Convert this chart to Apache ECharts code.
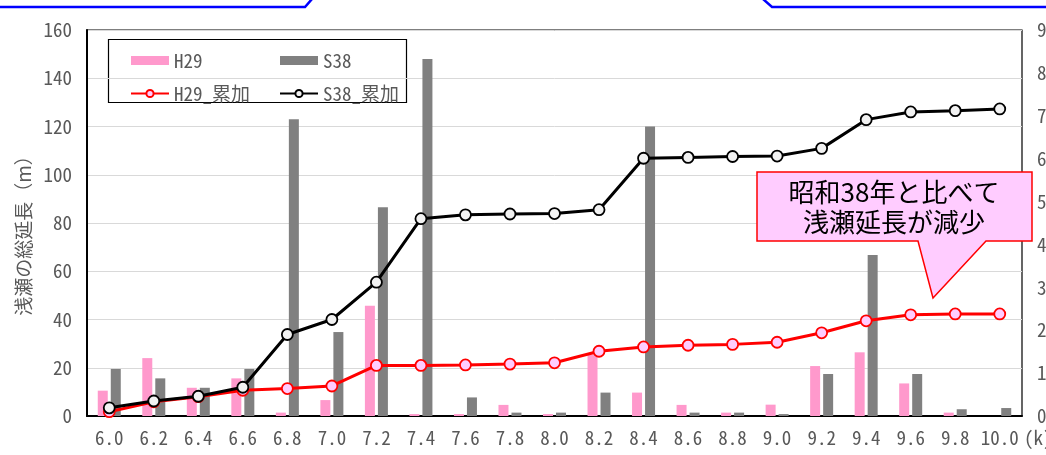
<!DOCTYPE html>
<html>
<head>
<meta charset="utf-8">
<script src="https://cdn.jsdelivr.net/npm/echarts@6/dist/echarts.min.js"></script>
<style>
  html, body { margin: 0; padding: 0; background: #fff; }
  #chart { width: 1046px; height: 455px; }
</style>
</head>
<body>
<div id="chart"></div>
<script>
// River distance markers (k)
const categories = ['6.0', '6.2', '6.4', '6.6', '6.8', '7.0', '7.2', '7.4', '7.6', '7.8', '8.0',
                    '8.2', '8.4', '8.6', '8.8', '9.0', '9.2', '9.4', '9.6', '9.8', '10.0'];

// Shoal length per section (m)
const h29 = [10.5, 24, 11.7, 15.6, 1.4, 6.6, 45.7, 0.8, 0.8, 4.6, 0.8,
             25.5, 9.7, 4.6, 1.4, 4.7, 20.7, 26.4, 13.5, 1.4, 0];
const s38 = [19.5, 15.6, 11.7, 19.5, 123, 34.8, 86.5, 148, 7.7, 1.4, 1.4,
             9.7, 120, 1.4, 1.4, 0.8, 17.4, 66.7, 17.4, 2.8, 3.3];

// Cumulative shoal length (m), right axis
const h29Cum = [10, 33, 45, 60, 64, 70, 118, 118, 119, 121, 124,
                151, 161, 165, 167, 172, 194, 222, 236, 238, 238];
const s38Cum = [19, 35, 46, 67, 190, 225, 312, 460, 469, 471, 472,
                481, 601, 603, 605, 606, 624, 691, 709, 712, 716];

const leftTicks = { min: 0, max: 160, interval: 20 };
const rightTicks = { min: 0, max: 900, interval: 100 };

const axisFont = "'Noto Sans Mono CJK JP', 'DejaVu Sans Mono', monospace";
const textGray = '#595959';

const chart = echarts.init(document.getElementById('chart'), null, { renderer: 'canvas' });

const legendText = { fontSize: 19, lineHeight: 27, color: textGray, fontFamily: axisFont };

chart.setOption({
  backgroundColor: '#ffffff',
  animation: false,
  grid: {
    left: 87, right: 24, top: 30, bottom: 39,
    containLabel: false, outerBoundsMode: 'none',
    show: true, borderColor: '#000', borderWidth: 1.2, backgroundColor: 'transparent'
  },
  legend: [
    {
      orient: 'vertical', left: 125, top: 42,
      itemWidth: 38, itemHeight: 9, itemGap: 6,
      textStyle: legendText,
      data: [{ name: 'H29', icon: 'rect' }, { name: 'H29_累加' }]
    },
    {
      orient: 'vertical', left: 274, top: 42,
      itemWidth: 38, itemHeight: 9, itemGap: 6,
      textStyle: legendText,
      data: [{ name: 'S38', icon: 'rect' }, { name: 'S38_累加' }]
    }
  ],
  xAxis: {
    type: 'category',
    data: categories,
    name: '(k)',
    nameLocation: 'end',
    nameGap: 2,
    nameMoveOverlap: false,
    nameTextStyle: {
      fontSize: 19, color: textGray, fontFamily: axisFont,
      align: 'left', verticalAlign: 'top', padding: [12, 0, 0, 0]
    },
    axisLine: { show: true, lineStyle: { color: '#000', width: 2 } },
    axisTick: { show: false },
    axisLabel: { interval: 0, margin: 12, fontSize: 19, color: textGray, fontFamily: axisFont }
  },
  yAxis: [
    {
      type: 'value',
      min: leftTicks.min, max: leftTicks.max, interval: leftTicks.interval,
      name: '浅瀬の総延長（m）',
      nameLocation: 'middle',
      nameGap: 54,
      nameRotate: 90,
      nameMoveOverlap: false,
      nameTextStyle: { fontSize: 19, color: textGray, fontFamily: "'Noto Sans CJK JP', sans-serif", padding: [0, 16, 0, 0] },
      axisLine: { show: true, lineStyle: { color: '#000', width: 2 } },
      axisTick: { show: false },
      axisLabel: { margin: 15, fontSize: 19, color: textGray, fontFamily: axisFont },
      splitLine: { show: true, lineStyle: { color: '#d9d9d9', width: 1 } }
    },
    {
      type: 'value',
      min: rightTicks.min, max: rightTicks.max, interval: rightTicks.interval,
      position: 'right',
      axisLine: { show: false },
      axisTick: { show: false },
      axisLabel: { margin: 15, fontSize: 19, color: textGray, fontFamily: axisFont },
      splitLine: { show: false }
    }
  ],
  series: [
    {
      name: 'H29', type: 'bar', yAxisIndex: 0, data: h29,
      barWidth: 10, barGap: '30%',
      itemStyle: { color: '#ff99cc' }
    },
    {
      name: 'S38', type: 'bar', yAxisIndex: 0, data: s38,
      barWidth: 10, barGap: '30%',
      itemStyle: { color: '#808080' }
    },
    {
      name: 'H29_累加', type: 'line', yAxisIndex: 1, data: h29Cum,
      symbol: 'circle', symbolSize: 11, showAllSymbol: true,
      lineStyle: { color: '#ff0000', width: 3 },
      itemStyle: { color: '#ffccff', borderColor: '#ff0000', borderWidth: 1.8 },
      z: 3
    },
    {
      name: 'S38_累加', type: 'line', yAxisIndex: 1, data: s38Cum,
      symbol: 'circle', symbolSize: 11, showAllSymbol: true,
      lineStyle: { color: '#000000', width: 3 },
      itemStyle: { color: '#f2f2f2', borderColor: '#000000', borderWidth: 1.8 },
      z: 4
    }
  ],
  graphic: [
    // frame lines of the surrounding panel
    {
      type: 'polyline', silent: true,
      shape: { points: [[-2, 7], [305, 7], [312, -1]] },
      style: { stroke: '#0000ff', lineWidth: 2.5, fill: null }
    },
    {
      type: 'polyline', silent: true,
      shape: { points: [[763, -1], [772, 7], [1048, 7]] },
      style: { stroke: '#0000ff', lineWidth: 2.5, fill: null }
    },
    // legend frame
    {
      type: 'rect', silent: true, z: -1,
      shape: { x: 108.5, y: 39.5, width: 298, height: 63 },
      style: { fill: '#ffffff', stroke: '#000000', lineWidth: 1.2 }
    },
    // callout
    {
      type: 'polygon', silent: true, z: 100,
      shape: { points: [[757, 172], [1032, 172], [1032, 241], [986, 241], [933, 298], [918, 241], [757, 241]] },
      style: { fill: '#ffccff', stroke: '#ff0000', lineWidth: 1.5 }
    },
    {
      type: 'text', silent: true, z: 101,
      x: 894, y: 207,
      style: {
        text: '昭和38年と比べて\n浅瀬延長が減少',
        fill: '#000000',
        fontSize: 26, lineHeight: 30,
        fontFamily: "'Noto Sans CJK JP', sans-serif",
        align: 'center', verticalAlign: 'middle'
      }
    }
  ]
});
</script>
</body>
</html>
